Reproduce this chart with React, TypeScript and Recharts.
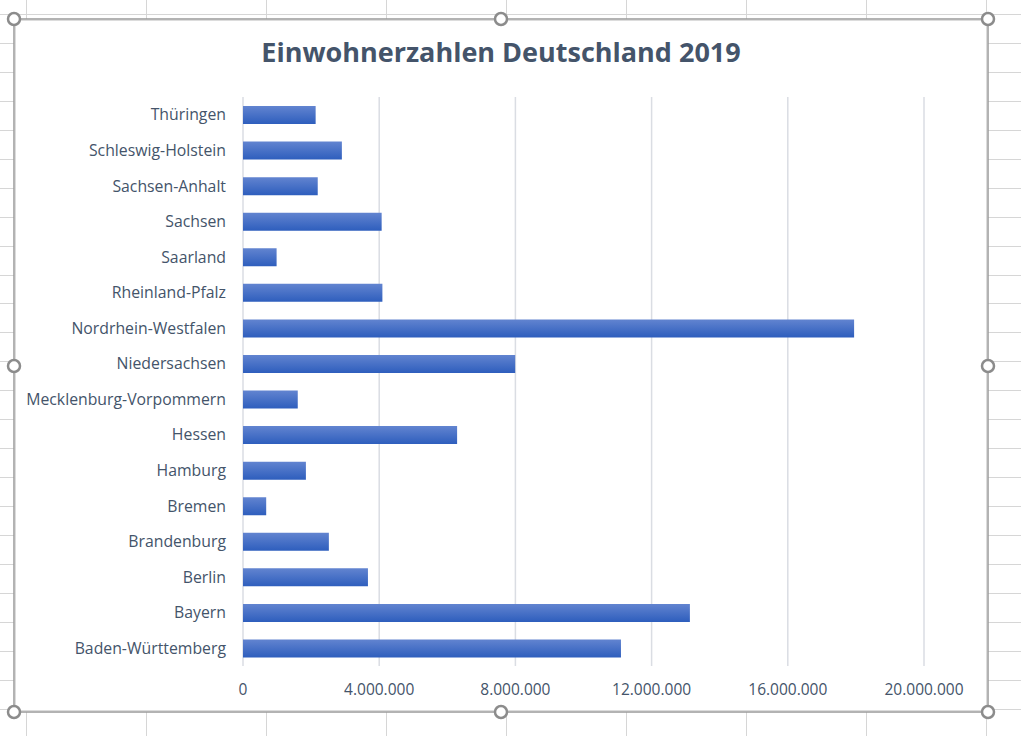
import React from "react";
import { BarChart, Bar, XAxis, YAxis, CartesianGrid } from "recharts";

const states = [
  "Baden-Württemberg",
  "Bayern",
  "Berlin",
  "Brandenburg",
  "Bremen",
  "Hamburg",
  "Hessen",
  "Mecklenburg-Vorpommern",
  "Niedersachsen",
  "Nordrhein-Westfalen",
  "Rheinland-Pfalz",
  "Saarland",
  "Sachsen",
  "Sachsen-Anhalt",
  "Schleswig-Holstein",
  "Thüringen",
];

const population = [
  11100394, 13124737, 3669491, 2521893, 681202, 1847253, 6288080, 1608138,
  7993608, 17947221, 4093903, 986887, 4071971, 2194782, 2903773, 2133378,
];

const xTicks = [0, 4000000, 8000000, 12000000, 16000000, 20000000];

const title = "Einwohnerzahlen Deutschland 2019";

const data = states.map((name, i) => ({ name, value: population[i] }));

const fmt = (v: number) => String(v).replace(/\B(?=(\d{3})+(?!\d))/g, ".");

const W = 1021;
const H = 736;
const FONT = "'Open Sans', 'Noto Sans', sans-serif";
const TEXT = "#44546A";

function SheetGrid() {
  const cols: number[] = [];
  for (let x = 26; x < W; x += 120) cols.push(x);
  const rows: number[] = [];
  for (let y = 14; y < H; y += 28.95) rows.push(Math.round(y));
  return (
    <svg width={W} height={H} style={{ position: "absolute", left: 0, top: 0 }}>
      <rect x={0} y={0} width={W} height={H} fill="#ffffff" />
      {cols.map((x) => (
        <line key={"c" + x} x1={x + 0.5} x2={x + 0.5} y1={0} y2={H} stroke="#d6d6d6" strokeWidth={1} />
      ))}
      {rows.map((y) => (
        <line key={"r" + y} x1={0} x2={W} y1={y + 0.5} y2={y + 0.5} stroke="#d6d6d6" strokeWidth={1} />
      ))}
    </svg>
  );
}

function Frame() {
  const x0 = 14, x1 = 988, y0 = 19, y1 = 712;
  const xm = 501, ym = 366;
  const pts = [
    [x0, y0], [xm, y0], [x1, y0],
    [x0, ym], [x1, ym],
    [x0, y1], [xm, y1], [x1, y1],
  ];
  return (
    <svg width={W} height={H} style={{ position: "absolute", left: 0, top: 0, pointerEvents: "none" }}>
      <rect x={x0} y={y0} width={x1 - x0} height={y1 - y0} fill="none" stroke="#9a9a9a" strokeWidth={1.5} />
      <rect x={x0 + 1.5} y={y0 + 1.5} width={x1 - x0 - 3} height={y1 - y0 - 3} fill="none" stroke="#dcdcdc" strokeWidth={1} />
      {pts.map(([x, y], i) => (
        <circle key={i} cx={x} cy={y} r={6} fill="#ffffff" stroke="#8c8c8c" strokeWidth={2.5} />
      ))}
    </svg>
  );
}

export default function App() {
  return (
    <div style={{ position: "absolute", left: 0, top: 0, width: W, height: H, overflow: "hidden", fontFamily: FONT }}>
      <SheetGrid />
      <div style={{ position: "absolute", left: 14, top: 19, width: 974, height: 693, background: "#ffffff" }} />
      <div
        style={{
          position: "absolute",
          left: 14,
          width: 974,
          top: 33,
          textAlign: "center",
          fontSize: 27,
          fontWeight: 700,
          color: TEXT,
          fontFamily: FONT,
          lineHeight: "38px",
        }}
      >
        {title}
      </div>
      <div style={{ position: "absolute", left: 0, top: 0 }}>
        <BarChart
          width={W}
          height={H}
          data={data}
          layout="vertical"
          margin={{ top: 97, right: 97, bottom: 30, left: 0 }}
          barCategoryGap="49%"
        >
          <defs>
            <linearGradient id="barGrad" x1="0" y1="0" x2="0" y2="1">
              <stop offset="0%" stopColor="#6284d0" />
              <stop offset="100%" stopColor="#2e5ebd" />
            </linearGradient>
          </defs>
          <CartesianGrid horizontal={false} stroke="#dadde3" strokeWidth={1.5} />
          <XAxis
            type="number"
            domain={[0, 20000000]}
            ticks={xTicks}
            tickFormatter={fmt}
            axisLine={false}
            tickLine={false}
            tickSize={0}
            tickMargin={18}
            height={40}
            interval={0}
            tick={{ fill: TEXT, fontSize: 15.5, fontFamily: FONT }}
          />
          <YAxis
            type="category"
            dataKey="name"
            reversed
            width={243}
            axisLine={false}
            tickLine={false}
            tickSize={0}
            tickMargin={17}
            interval={0}
            tick={{ fill: TEXT, fontSize: 15.8, fontFamily: FONT }}
          />
          <Bar dataKey="value" fill="url(#barGrad)" barSize={18} isAnimationActive={false} />
        </BarChart>
      </div>
      <Frame />
    </div>
  );
}
